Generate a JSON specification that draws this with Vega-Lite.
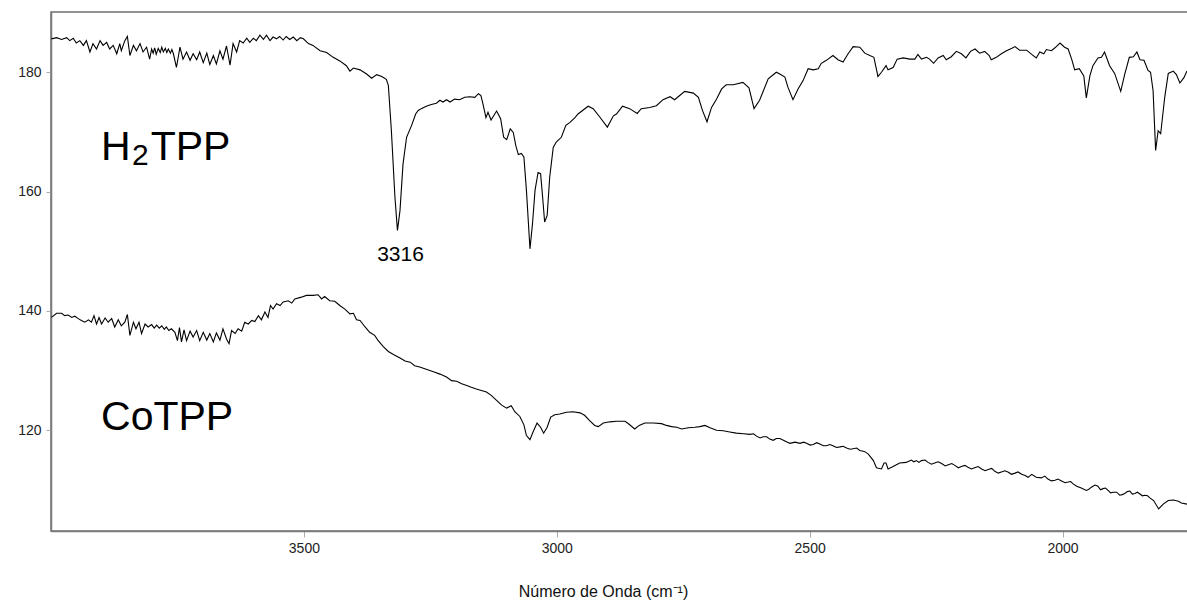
{
  "$schema": "https://vega.github.io/schema/vega-lite/v6.json",
  "width": 1138,
  "height": 519,
  "autosize": {"type": "none"},
  "padding": {"left": 51, "top": 12, "right": 0, "bottom": 69},
  "background": "white",
  "config": {
    "view": {"stroke": "#6e6e6e", "strokeWidth": 1.5},
    "font": "Liberation Sans",
    "axis": {"labelFont": "Liberation Sans", "titleFont": "Liberation Sans", "grid": false}
  },
  "datasets": {
    "spec": [
      {"series":"H2TPP","wn":3999,"t":185.6},{"series":"H2TPP","wn":3989,"t":185.8},{"series":"H2TPP","wn":3979,"t":185.5},{"series":"H2TPP","wn":3969,"t":185.8},{"series":"H2TPP","wn":3963,"t":185.3},{"series":"H2TPP","wn":3956,"t":185.7},{"series":"H2TPP","wn":3950,"t":184.9},{"series":"H2TPP","wn":3943,"t":185.3},{"series":"H2TPP","wn":3936,"t":184.5},{"series":"H2TPP","wn":3930,"t":185.3},{"series":"H2TPP","wn":3923,"t":183.4},{"series":"H2TPP","wn":3917,"t":184.8},{"series":"H2TPP","wn":3910,"t":183.9},{"series":"H2TPP","wn":3903,"t":185.3},{"series":"H2TPP","wn":3897,"t":184.5},{"series":"H2TPP","wn":3890,"t":185.0},{"series":"H2TPP","wn":3884,"t":183.9},{"series":"H2TPP","wn":3877,"t":184.5},{"series":"H2TPP","wn":3870,"t":183.1},{"series":"H2TPP","wn":3864,"t":184.8},{"series":"H2TPP","wn":3861,"t":183.6},{"series":"H2TPP","wn":3854,"t":185.3},{"series":"H2TPP","wn":3849,"t":186.0},{"series":"H2TPP","wn":3844,"t":182.8},{"series":"H2TPP","wn":3837,"t":184.5},{"series":"H2TPP","wn":3831,"t":183.6},{"series":"H2TPP","wn":3824,"t":184.8},{"series":"H2TPP","wn":3818,"t":183.4},{"series":"H2TPP","wn":3811,"t":184.2},{"series":"H2TPP","wn":3805,"t":182.2},{"series":"H2TPP","wn":3801,"t":183.9},{"series":"H2TPP","wn":3798,"t":183.2},{"series":"H2TPP","wn":3795,"t":184.1},{"series":"H2TPP","wn":3792,"t":183.0},{"series":"H2TPP","wn":3788,"t":184.0},{"series":"H2TPP","wn":3784,"t":183.3},{"series":"H2TPP","wn":3781,"t":184.2},{"series":"H2TPP","wn":3778,"t":183.4},{"series":"H2TPP","wn":3774,"t":184.0},{"series":"H2TPP","wn":3771,"t":183.3},{"series":"H2TPP","wn":3768,"t":183.9},{"series":"H2TPP","wn":3764,"t":183.2},{"series":"H2TPP","wn":3761,"t":183.8},{"series":"H2TPP","wn":3758,"t":183.1},{"series":"H2TPP","wn":3752,"t":180.8},{"series":"H2TPP","wn":3745,"t":184.2},{"series":"H2TPP","wn":3739,"t":182.2},{"series":"H2TPP","wn":3732,"t":183.4},{"series":"H2TPP","wn":3725,"t":182.0},{"series":"H2TPP","wn":3719,"t":183.1},{"series":"H2TPP","wn":3712,"t":182.1},{"series":"H2TPP","wn":3706,"t":183.4},{"series":"H2TPP","wn":3699,"t":181.6},{"series":"H2TPP","wn":3692,"t":183.2},{"series":"H2TPP","wn":3686,"t":181.3},{"series":"H2TPP","wn":3679,"t":182.8},{"series":"H2TPP","wn":3673,"t":181.4},{"series":"H2TPP","wn":3666,"t":183.6},{"series":"H2TPP","wn":3660,"t":182.2},{"series":"H2TPP","wn":3653,"t":184.4},{"series":"H2TPP","wn":3646,"t":181.2},{"series":"H2TPP","wn":3640,"t":184.8},{"series":"H2TPP","wn":3633,"t":183.4},{"series":"H2TPP","wn":3627,"t":185.3},{"series":"H2TPP","wn":3620,"t":184.9},{"series":"H2TPP","wn":3613,"t":185.7},{"series":"H2TPP","wn":3607,"t":185.0},{"series":"H2TPP","wn":3600,"t":185.7},{"series":"H2TPP","wn":3594,"t":185.3},{"series":"H2TPP","wn":3587,"t":186.2},{"series":"H2TPP","wn":3580,"t":185.5},{"series":"H2TPP","wn":3574,"t":186.2},{"series":"H2TPP","wn":3567,"t":185.3},{"series":"H2TPP","wn":3561,"t":185.9},{"series":"H2TPP","wn":3554,"t":185.6},{"series":"H2TPP","wn":3548,"t":186.0},{"series":"H2TPP","wn":3541,"t":185.4},{"series":"H2TPP","wn":3535,"t":186.0},{"series":"H2TPP","wn":3528,"t":185.5},{"series":"H2TPP","wn":3521,"t":185.9},{"series":"H2TPP","wn":3514,"t":185.3},{"series":"H2TPP","wn":3507,"t":185.8},{"series":"H2TPP","wn":3501,"t":185.6},{"series":"H2TPP","wn":3491,"t":184.8},{"series":"H2TPP","wn":3482,"t":184.5},{"series":"H2TPP","wn":3468,"t":183.6},{"series":"H2TPP","wn":3455,"t":183.3},{"series":"H2TPP","wn":3442,"t":182.5},{"series":"H2TPP","wn":3429,"t":181.9},{"series":"H2TPP","wn":3416,"t":181.1},{"series":"H2TPP","wn":3409,"t":180.2},{"series":"H2TPP","wn":3402,"t":180.7},{"series":"H2TPP","wn":3389,"t":180.4},{"series":"H2TPP","wn":3376,"t":179.7},{"series":"H2TPP","wn":3366,"t":179.0},{"series":"H2TPP","wn":3356,"t":179.6},{"series":"H2TPP","wn":3346,"t":179.3},{"series":"H2TPP","wn":3337,"t":178.8},{"series":"H2TPP","wn":3333,"t":177.8},{"series":"H2TPP","wn":3327,"t":170.2},{"series":"H2TPP","wn":3320,"t":159.1},{"series":"H2TPP","wn":3315,"t":153.5},{"series":"H2TPP","wn":3310,"t":156.8},{"series":"H2TPP","wn":3304,"t":164.6},{"series":"H2TPP","wn":3297,"t":169.1},{"series":"H2TPP","wn":3287,"t":171.1},{"series":"H2TPP","wn":3279,"t":173.0},{"series":"H2TPP","wn":3274,"t":173.6},{"series":"H2TPP","wn":3268,"t":173.9},{"series":"H2TPP","wn":3258,"t":174.3},{"series":"H2TPP","wn":3248,"t":174.6},{"series":"H2TPP","wn":3238,"t":174.8},{"series":"H2TPP","wn":3231,"t":175.3},{"series":"H2TPP","wn":3225,"t":175.0},{"series":"H2TPP","wn":3218,"t":175.4},{"series":"H2TPP","wn":3211,"t":175.0},{"series":"H2TPP","wn":3202,"t":175.5},{"series":"H2TPP","wn":3192,"t":175.4},{"series":"H2TPP","wn":3182,"t":175.8},{"series":"H2TPP","wn":3172,"t":175.9},{"series":"H2TPP","wn":3162,"t":175.8},{"series":"H2TPP","wn":3155,"t":176.4},{"series":"H2TPP","wn":3150,"t":176.1},{"series":"H2TPP","wn":3146,"t":174.7},{"series":"H2TPP","wn":3140,"t":172.4},{"series":"H2TPP","wn":3136,"t":173.3},{"series":"H2TPP","wn":3130,"t":172.0},{"series":"H2TPP","wn":3119,"t":173.5},{"series":"H2TPP","wn":3111,"t":172.2},{"series":"H2TPP","wn":3105,"t":169.1},{"series":"H2TPP","wn":3099,"t":168.7},{"series":"H2TPP","wn":3092,"t":170.5},{"series":"H2TPP","wn":3086,"t":169.9},{"series":"H2TPP","wn":3081,"t":167.7},{"series":"H2TPP","wn":3076,"t":166.2},{"series":"H2TPP","wn":3070,"t":166.4},{"series":"H2TPP","wn":3065,"t":165.8},{"series":"H2TPP","wn":3060,"t":160.2},{"series":"H2TPP","wn":3053,"t":150.4},{"series":"H2TPP","wn":3048,"t":154.6},{"series":"H2TPP","wn":3043,"t":160.2},{"series":"H2TPP","wn":3037,"t":163.2},{"series":"H2TPP","wn":3032,"t":163.0},{"series":"H2TPP","wn":3028,"t":159.1},{"series":"H2TPP","wn":3024,"t":154.9},{"series":"H2TPP","wn":3019,"t":156.0},{"series":"H2TPP","wn":3014,"t":162.4},{"series":"H2TPP","wn":3007,"t":167.4},{"series":"H2TPP","wn":3001,"t":168.3},{"series":"H2TPP","wn":2991,"t":169.1},{"series":"H2TPP","wn":2982,"t":171.1},{"series":"H2TPP","wn":2974,"t":171.6},{"series":"H2TPP","wn":2964,"t":172.4},{"series":"H2TPP","wn":2958,"t":173.0},{"series":"H2TPP","wn":2938,"t":174.3},{"series":"H2TPP","wn":2928,"t":173.9},{"series":"H2TPP","wn":2915,"t":172.5},{"series":"H2TPP","wn":2900,"t":170.8},{"series":"H2TPP","wn":2888,"t":172.7},{"series":"H2TPP","wn":2882,"t":173.0},{"series":"H2TPP","wn":2870,"t":174.3},{"series":"H2TPP","wn":2856,"t":173.9},{"series":"H2TPP","wn":2841,"t":173.1},{"series":"H2TPP","wn":2833,"t":173.9},{"series":"H2TPP","wn":2816,"t":174.1},{"series":"H2TPP","wn":2803,"t":174.4},{"series":"H2TPP","wn":2790,"t":175.4},{"series":"H2TPP","wn":2776,"t":175.9},{"series":"H2TPP","wn":2767,"t":175.4},{"series":"H2TPP","wn":2757,"t":176.1},{"series":"H2TPP","wn":2747,"t":176.8},{"series":"H2TPP","wn":2730,"t":176.5},{"series":"H2TPP","wn":2720,"t":175.8},{"series":"H2TPP","wn":2712,"t":173.6},{"series":"H2TPP","wn":2703,"t":171.7},{"series":"H2TPP","wn":2694,"t":174.1},{"series":"H2TPP","wn":2684,"t":175.5},{"series":"H2TPP","wn":2674,"t":177.2},{"series":"H2TPP","wn":2665,"t":177.9},{"series":"H2TPP","wn":2651,"t":177.9},{"series":"H2TPP","wn":2632,"t":178.3},{"series":"H2TPP","wn":2620,"t":177.4},{"series":"H2TPP","wn":2610,"t":173.9},{"series":"H2TPP","wn":2599,"t":175.3},{"series":"H2TPP","wn":2582,"t":178.9},{"series":"H2TPP","wn":2566,"t":180.0},{"series":"H2TPP","wn":2559,"t":179.7},{"series":"H2TPP","wn":2549,"t":179.2},{"series":"H2TPP","wn":2543,"t":177.5},{"series":"H2TPP","wn":2533,"t":175.4},{"series":"H2TPP","wn":2523,"t":177.2},{"series":"H2TPP","wn":2513,"t":178.6},{"series":"H2TPP","wn":2503,"t":180.6},{"series":"H2TPP","wn":2493,"t":180.4},{"series":"H2TPP","wn":2483,"t":180.6},{"series":"H2TPP","wn":2477,"t":181.5},{"series":"H2TPP","wn":2467,"t":182.0},{"series":"H2TPP","wn":2454,"t":182.8},{"series":"H2TPP","wn":2444,"t":182.1},{"series":"H2TPP","wn":2434,"t":181.7},{"series":"H2TPP","wn":2424,"t":183.1},{"series":"H2TPP","wn":2414,"t":184.3},{"series":"H2TPP","wn":2401,"t":184.2},{"series":"H2TPP","wn":2391,"t":183.2},{"series":"H2TPP","wn":2381,"t":182.8},{"series":"H2TPP","wn":2373,"t":182.5},{"series":"H2TPP","wn":2365,"t":179.3},{"series":"H2TPP","wn":2358,"t":180.0},{"series":"H2TPP","wn":2349,"t":181.1},{"series":"H2TPP","wn":2345,"t":180.4},{"series":"H2TPP","wn":2335,"t":180.8},{"series":"H2TPP","wn":2327,"t":182.2},{"series":"H2TPP","wn":2315,"t":182.4},{"series":"H2TPP","wn":2302,"t":182.2},{"series":"H2TPP","wn":2292,"t":182.2},{"series":"H2TPP","wn":2286,"t":183.0},{"series":"H2TPP","wn":2279,"t":182.2},{"series":"H2TPP","wn":2269,"t":182.5},{"series":"H2TPP","wn":2263,"t":182.2},{"series":"H2TPP","wn":2255,"t":181.5},{"series":"H2TPP","wn":2246,"t":182.4},{"series":"H2TPP","wn":2236,"t":182.8},{"series":"H2TPP","wn":2230,"t":182.1},{"series":"H2TPP","wn":2220,"t":182.6},{"series":"H2TPP","wn":2210,"t":183.5},{"series":"H2TPP","wn":2200,"t":183.1},{"series":"H2TPP","wn":2191,"t":182.4},{"series":"H2TPP","wn":2182,"t":183.5},{"series":"H2TPP","wn":2173,"t":183.9},{"series":"H2TPP","wn":2164,"t":183.2},{"series":"H2TPP","wn":2154,"t":183.5},{"series":"H2TPP","wn":2145,"t":182.8},{"series":"H2TPP","wn":2141,"t":182.1},{"series":"H2TPP","wn":2131,"t":182.5},{"series":"H2TPP","wn":2121,"t":183.1},{"series":"H2TPP","wn":2111,"t":183.6},{"series":"H2TPP","wn":2101,"t":184.0},{"series":"H2TPP","wn":2094,"t":184.3},{"series":"H2TPP","wn":2085,"t":183.7},{"series":"H2TPP","wn":2071,"t":183.7},{"series":"H2TPP","wn":2061,"t":183.0},{"series":"H2TPP","wn":2052,"t":182.4},{"series":"H2TPP","wn":2045,"t":183.4},{"series":"H2TPP","wn":2037,"t":183.1},{"series":"H2TPP","wn":2032,"t":183.8},{"series":"H2TPP","wn":2022,"t":183.6},{"series":"H2TPP","wn":2015,"t":184.1},{"series":"H2TPP","wn":2005,"t":184.9},{"series":"H2TPP","wn":1996,"t":184.2},{"series":"H2TPP","wn":1989,"t":183.9},{"series":"H2TPP","wn":1982,"t":182.2},{"series":"H2TPP","wn":1976,"t":180.4},{"series":"H2TPP","wn":1967,"t":180.6},{"series":"H2TPP","wn":1958,"t":179.4},{"series":"H2TPP","wn":1953,"t":175.7},{"series":"H2TPP","wn":1946,"t":179.4},{"series":"H2TPP","wn":1940,"t":181.1},{"series":"H2TPP","wn":1930,"t":182.4},{"series":"H2TPP","wn":1923,"t":182.5},{"series":"H2TPP","wn":1917,"t":183.4},{"series":"H2TPP","wn":1907,"t":181.1},{"series":"H2TPP","wn":1897,"t":179.8},{"series":"H2TPP","wn":1885,"t":176.8},{"series":"H2TPP","wn":1877,"t":179.7},{"series":"H2TPP","wn":1868,"t":182.5},{"series":"H2TPP","wn":1860,"t":182.6},{"series":"H2TPP","wn":1853,"t":183.4},{"series":"H2TPP","wn":1847,"t":182.1},{"series":"H2TPP","wn":1839,"t":182.0},{"series":"H2TPP","wn":1831,"t":180.3},{"series":"H2TPP","wn":1826,"t":180.0},{"series":"H2TPP","wn":1821,"t":176.9},{"series":"H2TPP","wn":1816,"t":166.9},{"series":"H2TPP","wn":1811,"t":170.2},{"series":"H2TPP","wn":1806,"t":169.7},{"series":"H2TPP","wn":1798,"t":175.8},{"series":"H2TPP","wn":1791,"t":179.8},{"series":"H2TPP","wn":1781,"t":180.2},{"series":"H2TPP","wn":1775,"t":179.6},{"series":"H2TPP","wn":1768,"t":178.2},{"series":"H2TPP","wn":1760,"t":179.1},{"series":"H2TPP","wn":1754,"t":180.2},
      {"series":"CoTPP","wn":3999,"t":138.9},{"series":"CoTPP","wn":3989,"t":139.6},{"series":"CoTPP","wn":3979,"t":139.6},{"series":"CoTPP","wn":3973,"t":139.2},{"series":"CoTPP","wn":3966,"t":139.3},{"series":"CoTPP","wn":3959,"t":138.9},{"series":"CoTPP","wn":3953,"t":139.1},{"series":"CoTPP","wn":3946,"t":138.7},{"series":"CoTPP","wn":3940,"t":138.4},{"series":"CoTPP","wn":3933,"t":138.1},{"series":"CoTPP","wn":3926,"t":138.5},{"series":"CoTPP","wn":3920,"t":138.1},{"series":"CoTPP","wn":3915,"t":139.2},{"series":"CoTPP","wn":3910,"t":137.8},{"series":"CoTPP","wn":3905,"t":138.9},{"series":"CoTPP","wn":3900,"t":137.8},{"series":"CoTPP","wn":3893,"t":138.8},{"series":"CoTPP","wn":3887,"t":138.1},{"series":"CoTPP","wn":3880,"t":138.7},{"series":"CoTPP","wn":3874,"t":137.3},{"series":"CoTPP","wn":3867,"t":138.5},{"series":"CoTPP","wn":3861,"t":137.5},{"series":"CoTPP","wn":3854,"t":138.1},{"series":"CoTPP","wn":3849,"t":139.4},{"series":"CoTPP","wn":3844,"t":135.9},{"series":"CoTPP","wn":3837,"t":138.1},{"series":"CoTPP","wn":3832,"t":137.0},{"series":"CoTPP","wn":3826,"t":138.1},{"series":"CoTPP","wn":3821,"t":136.2},{"series":"CoTPP","wn":3814,"t":137.8},{"series":"CoTPP","wn":3808,"t":137.3},{"series":"CoTPP","wn":3801,"t":137.7},{"series":"CoTPP","wn":3796,"t":137.1},{"series":"CoTPP","wn":3791,"t":137.6},{"series":"CoTPP","wn":3786,"t":137.1},{"series":"CoTPP","wn":3781,"t":137.5},{"series":"CoTPP","wn":3776,"t":136.9},{"series":"CoTPP","wn":3772,"t":137.3},{"series":"CoTPP","wn":3767,"t":136.7},{"series":"CoTPP","wn":3762,"t":137.0},{"series":"CoTPP","wn":3755,"t":136.4},{"series":"CoTPP","wn":3750,"t":135.0},{"series":"CoTPP","wn":3746,"t":137.2},{"series":"CoTPP","wn":3742,"t":134.8},{"series":"CoTPP","wn":3737,"t":136.8},{"series":"CoTPP","wn":3732,"t":135.0},{"series":"CoTPP","wn":3725,"t":136.6},{"series":"CoTPP","wn":3719,"t":135.6},{"series":"CoTPP","wn":3712,"t":136.7},{"series":"CoTPP","wn":3706,"t":135.0},{"series":"CoTPP","wn":3699,"t":136.4},{"series":"CoTPP","wn":3692,"t":135.1},{"series":"CoTPP","wn":3686,"t":136.2},{"series":"CoTPP","wn":3679,"t":134.8},{"series":"CoTPP","wn":3673,"t":136.3},{"series":"CoTPP","wn":3666,"t":135.1},{"series":"CoTPP","wn":3660,"t":137.0},{"series":"CoTPP","wn":3653,"t":135.3},{"series":"CoTPP","wn":3648,"t":134.5},{"series":"CoTPP","wn":3643,"t":136.7},{"series":"CoTPP","wn":3636,"t":136.2},{"series":"CoTPP","wn":3630,"t":137.0},{"series":"CoTPP","wn":3623,"t":136.6},{"series":"CoTPP","wn":3617,"t":138.1},{"series":"CoTPP","wn":3610,"t":137.8},{"series":"CoTPP","wn":3603,"t":138.4},{"series":"CoTPP","wn":3597,"t":138.2},{"series":"CoTPP","wn":3590,"t":139.2},{"series":"CoTPP","wn":3584,"t":138.5},{"series":"CoTPP","wn":3577,"t":139.8},{"series":"CoTPP","wn":3571,"t":138.9},{"series":"CoTPP","wn":3566,"t":140.9},{"series":"CoTPP","wn":3561,"t":140.3},{"series":"CoTPP","wn":3554,"t":141.2},{"series":"CoTPP","wn":3547,"t":140.9},{"series":"CoTPP","wn":3541,"t":141.5},{"series":"CoTPP","wn":3531,"t":141.7},{"series":"CoTPP","wn":3524,"t":141.3},{"series":"CoTPP","wn":3518,"t":142.0},{"series":"CoTPP","wn":3505,"t":142.3},{"series":"CoTPP","wn":3495,"t":142.6},{"series":"CoTPP","wn":3482,"t":142.6},{"series":"CoTPP","wn":3472,"t":142.7},{"series":"CoTPP","wn":3465,"t":142.0},{"series":"CoTPP","wn":3459,"t":142.4},{"series":"CoTPP","wn":3449,"t":141.7},{"series":"CoTPP","wn":3439,"t":141.6},{"series":"CoTPP","wn":3429,"t":140.9},{"series":"CoTPP","wn":3419,"t":140.3},{"series":"CoTPP","wn":3409,"t":139.5},{"series":"CoTPP","wn":3402,"t":139.6},{"series":"CoTPP","wn":3396,"t":138.5},{"series":"CoTPP","wn":3389,"t":138.4},{"series":"CoTPP","wn":3379,"t":137.3},{"series":"CoTPP","wn":3370,"t":136.4},{"series":"CoTPP","wn":3360,"t":135.9},{"series":"CoTPP","wn":3353,"t":135.0},{"series":"CoTPP","wn":3343,"t":134.0},{"series":"CoTPP","wn":3333,"t":133.2},{"series":"CoTPP","wn":3323,"t":132.7},{"series":"CoTPP","wn":3310,"t":132.1},{"series":"CoTPP","wn":3300,"t":131.6},{"series":"CoTPP","wn":3290,"t":131.4},{"series":"CoTPP","wn":3281,"t":130.8},{"series":"CoTPP","wn":3271,"t":130.6},{"series":"CoTPP","wn":3261,"t":130.3},{"series":"CoTPP","wn":3251,"t":130.0},{"series":"CoTPP","wn":3241,"t":129.7},{"series":"CoTPP","wn":3231,"t":129.4},{"series":"CoTPP","wn":3218,"t":128.9},{"series":"CoTPP","wn":3208,"t":128.3},{"series":"CoTPP","wn":3198,"t":128.2},{"series":"CoTPP","wn":3188,"t":127.8},{"series":"CoTPP","wn":3178,"t":127.5},{"series":"CoTPP","wn":3169,"t":127.2},{"series":"CoTPP","wn":3159,"t":126.9},{"series":"CoTPP","wn":3149,"t":126.65},{"series":"CoTPP","wn":3139,"t":126.4},{"series":"CoTPP","wn":3129,"t":125.8},{"series":"CoTPP","wn":3119,"t":125.0},{"series":"CoTPP","wn":3109,"t":124.2},{"series":"CoTPP","wn":3099,"t":123.7},{"series":"CoTPP","wn":3090,"t":124.1},{"series":"CoTPP","wn":3083,"t":123.1},{"series":"CoTPP","wn":3073,"t":122.3},{"series":"CoTPP","wn":3065,"t":120.9},{"series":"CoTPP","wn":3060,"t":119.1},{"series":"CoTPP","wn":3053,"t":118.4},{"series":"CoTPP","wn":3047,"t":119.7},{"series":"CoTPP","wn":3039,"t":121.2},{"series":"CoTPP","wn":3032,"t":120.5},{"series":"CoTPP","wn":3026,"t":119.5},{"series":"CoTPP","wn":3019,"t":120.5},{"series":"CoTPP","wn":3012,"t":122.2},{"series":"CoTPP","wn":3004,"t":122.6},{"series":"CoTPP","wn":2994,"t":122.7},{"series":"CoTPP","wn":2981,"t":123.0},{"series":"CoTPP","wn":2968,"t":123.1},{"series":"CoTPP","wn":2954,"t":122.9},{"series":"CoTPP","wn":2945,"t":122.5},{"series":"CoTPP","wn":2935,"t":121.6},{"series":"CoTPP","wn":2925,"t":120.8},{"series":"CoTPP","wn":2918,"t":120.6},{"series":"CoTPP","wn":2908,"t":121.2},{"series":"CoTPP","wn":2895,"t":121.4},{"series":"CoTPP","wn":2882,"t":121.5},{"series":"CoTPP","wn":2865,"t":121.5},{"series":"CoTPP","wn":2857,"t":121.0},{"series":"CoTPP","wn":2846,"t":120.2},{"series":"CoTPP","wn":2837,"t":120.8},{"series":"CoTPP","wn":2826,"t":121.2},{"series":"CoTPP","wn":2809,"t":121.2},{"series":"CoTPP","wn":2793,"t":121.1},{"series":"CoTPP","wn":2783,"t":120.8},{"series":"CoTPP","wn":2773,"t":120.6},{"series":"CoTPP","wn":2763,"t":120.5},{"series":"CoTPP","wn":2753,"t":120.2},{"series":"CoTPP","wn":2740,"t":120.4},{"series":"CoTPP","wn":2727,"t":120.5},{"series":"CoTPP","wn":2717,"t":120.6},{"series":"CoTPP","wn":2707,"t":120.8},{"series":"CoTPP","wn":2697,"t":120.4},{"series":"CoTPP","wn":2684,"t":120.0},{"series":"CoTPP","wn":2671,"t":119.9},{"series":"CoTPP","wn":2658,"t":119.7},{"series":"CoTPP","wn":2645,"t":119.5},{"series":"CoTPP","wn":2631,"t":119.4},{"series":"CoTPP","wn":2618,"t":119.3},{"series":"CoTPP","wn":2611,"t":119.4},{"series":"CoTPP","wn":2605,"t":119.0},{"series":"CoTPP","wn":2598,"t":118.7},{"series":"CoTPP","wn":2592,"t":118.9},{"series":"CoTPP","wn":2585,"t":118.9},{"series":"CoTPP","wn":2579,"t":118.5},{"series":"CoTPP","wn":2572,"t":118.3},{"series":"CoTPP","wn":2566,"t":118.6},{"series":"CoTPP","wn":2559,"t":118.6},{"series":"CoTPP","wn":2552,"t":118.3},{"series":"CoTPP","wn":2545,"t":118.0},{"series":"CoTPP","wn":2539,"t":117.8},{"series":"CoTPP","wn":2529,"t":118.0},{"series":"CoTPP","wn":2519,"t":117.8},{"series":"CoTPP","wn":2512,"t":118.0},{"series":"CoTPP","wn":2506,"t":117.8},{"series":"CoTPP","wn":2499,"t":117.5},{"series":"CoTPP","wn":2493,"t":117.6},{"series":"CoTPP","wn":2486,"t":117.9},{"series":"CoTPP","wn":2480,"t":117.7},{"series":"CoTPP","wn":2473,"t":117.4},{"series":"CoTPP","wn":2467,"t":117.4},{"series":"CoTPP","wn":2460,"t":117.6},{"series":"CoTPP","wn":2454,"t":117.4},{"series":"CoTPP","wn":2447,"t":117.1},{"series":"CoTPP","wn":2440,"t":117.2},{"series":"CoTPP","wn":2434,"t":117.3},{"series":"CoTPP","wn":2427,"t":117.0},{"series":"CoTPP","wn":2420,"t":116.8},{"series":"CoTPP","wn":2414,"t":116.9},{"series":"CoTPP","wn":2407,"t":117.0},{"series":"CoTPP","wn":2401,"t":116.6},{"series":"CoTPP","wn":2396,"t":116.5},{"series":"CoTPP","wn":2391,"t":116.4},{"series":"CoTPP","wn":2384,"t":116.0},{"series":"CoTPP","wn":2374,"t":114.9},{"series":"CoTPP","wn":2368,"t":113.7},{"series":"CoTPP","wn":2358,"t":113.5},{"series":"CoTPP","wn":2353,"t":114.5},{"series":"CoTPP","wn":2349,"t":114.5},{"series":"CoTPP","wn":2345,"t":113.5},{"series":"CoTPP","wn":2335,"t":113.9},{"series":"CoTPP","wn":2322,"t":114.5},{"series":"CoTPP","wn":2309,"t":114.6},{"series":"CoTPP","wn":2304,"t":114.8},{"series":"CoTPP","wn":2299,"t":115.0},{"series":"CoTPP","wn":2294,"t":114.7},{"series":"CoTPP","wn":2289,"t":114.9},{"series":"CoTPP","wn":2284,"t":114.6},{"series":"CoTPP","wn":2279,"t":114.9},{"series":"CoTPP","wn":2272,"t":115.0},{"series":"CoTPP","wn":2266,"t":114.6},{"series":"CoTPP","wn":2259,"t":114.3},{"series":"CoTPP","wn":2253,"t":114.5},{"series":"CoTPP","wn":2246,"t":114.7},{"series":"CoTPP","wn":2239,"t":114.4},{"series":"CoTPP","wn":2232,"t":114.0},{"series":"CoTPP","wn":2226,"t":114.2},{"series":"CoTPP","wn":2219,"t":114.4},{"series":"CoTPP","wn":2213,"t":114.1},{"series":"CoTPP","wn":2206,"t":113.7},{"series":"CoTPP","wn":2200,"t":113.9},{"series":"CoTPP","wn":2193,"t":114.1},{"series":"CoTPP","wn":2187,"t":113.8},{"series":"CoTPP","wn":2180,"t":113.5},{"series":"CoTPP","wn":2174,"t":113.7},{"series":"CoTPP","wn":2167,"t":113.9},{"series":"CoTPP","wn":2160,"t":113.5},{"series":"CoTPP","wn":2153,"t":113.2},{"series":"CoTPP","wn":2147,"t":113.4},{"series":"CoTPP","wn":2140,"t":113.6},{"series":"CoTPP","wn":2134,"t":113.1},{"series":"CoTPP","wn":2127,"t":112.8},{"series":"CoTPP","wn":2121,"t":113.0},{"series":"CoTPP","wn":2114,"t":113.2},{"series":"CoTPP","wn":2108,"t":113.0},{"series":"CoTPP","wn":2101,"t":112.6},{"series":"CoTPP","wn":2094,"t":112.8},{"series":"CoTPP","wn":2088,"t":113.0},{"series":"CoTPP","wn":2081,"t":112.6},{"series":"CoTPP","wn":2074,"t":112.4},{"series":"CoTPP","wn":2068,"t":112.1},{"series":"CoTPP","wn":2061,"t":112.6},{"series":"CoTPP","wn":2052,"t":112.1},{"series":"CoTPP","wn":2042,"t":112.0},{"series":"CoTPP","wn":2035,"t":112.3},{"series":"CoTPP","wn":2029,"t":111.8},{"series":"CoTPP","wn":2022,"t":111.5},{"series":"CoTPP","wn":2015,"t":111.6},{"series":"CoTPP","wn":2009,"t":111.8},{"series":"CoTPP","wn":2002,"t":111.5},{"series":"CoTPP","wn":1995,"t":111.2},{"series":"CoTPP","wn":1989,"t":111.3},{"series":"CoTPP","wn":1984,"t":111.4},{"series":"CoTPP","wn":1979,"t":111.0},{"series":"CoTPP","wn":1972,"t":110.6},{"series":"CoTPP","wn":1963,"t":110.3},{"series":"CoTPP","wn":1953,"t":109.9},{"series":"CoTPP","wn":1948,"t":110.1},{"series":"CoTPP","wn":1943,"t":110.45},{"series":"CoTPP","wn":1936,"t":110.8},{"series":"CoTPP","wn":1930,"t":110.6},{"series":"CoTPP","wn":1925,"t":110.0},{"series":"CoTPP","wn":1920,"t":110.2},{"series":"CoTPP","wn":1915,"t":110.3},{"series":"CoTPP","wn":1910,"t":109.9},{"series":"CoTPP","wn":1905,"t":109.5},{"series":"CoTPP","wn":1900,"t":109.6},{"series":"CoTPP","wn":1893,"t":109.6},{"series":"CoTPP","wn":1887,"t":109.1},{"series":"CoTPP","wn":1882,"t":109.2},{"series":"CoTPP","wn":1877,"t":109.4},{"series":"CoTPP","wn":1872,"t":109.7},{"series":"CoTPP","wn":1867,"t":109.8},{"series":"CoTPP","wn":1862,"t":109.3},{"series":"CoTPP","wn":1857,"t":109.4},{"series":"CoTPP","wn":1852,"t":109.6},{"series":"CoTPP","wn":1847,"t":109.3},{"series":"CoTPP","wn":1842,"t":109.0},{"series":"CoTPP","wn":1837,"t":109.1},{"series":"CoTPP","wn":1832,"t":109.0},{"series":"CoTPP","wn":1828,"t":108.7},{"series":"CoTPP","wn":1820,"t":108.2},{"series":"CoTPP","wn":1810,"t":106.8},{"series":"CoTPP","wn":1801,"t":107.6},{"series":"CoTPP","wn":1791,"t":108.2},{"series":"CoTPP","wn":1781,"t":108.3},{"series":"CoTPP","wn":1771,"t":108.1},{"series":"CoTPP","wn":1765,"t":107.8},{"series":"CoTPP","wn":1754,"t":107.6}
    ],
    "big": [
      {"wn": 3901, "t": 165.3, "label": "H"},
      {"wn": 3803, "t": 165.3, "label": "TPP"},
      {"wn": 3901, "t": 120.0, "label": "CoTPP"}
    ],
    "sub": [
      {"wn": 3840, "t": 164.4, "label": "2"}
    ],
    "peak": [
      {"wn": 3309, "t": 148.4, "label": "3316"}
    ]
  },
  "encoding": {
    "x": {
      "field": "wn", "type": "quantitative",
      "scale": {"domain": [4000, 1750], "nice": false, "zero": false},
      "axis": {
        "values": [3500, 3000, 2500, 2000],
        "format": "d",
        "title": "Número de Onda (cm⁻¹)",
        "titleFontSize": 16, "titleFontWeight": "normal", "titleColor": "#111",
        "titleX": 552, "titleY": 65, "titleBaseline": "alphabetic", "titleAnchor": "middle", "titleAlign": "center",
        "labelFontSize": 14, "labelColor": "#222", "labelPadding": 4,
        "domainColor": "#7a7a7a", "domainWidth": 1.5,
        "tickColor": "#aaaaaa", "tickSize": 6, "tickWidth": 1
      }
    },
    "y": {
      "field": "t", "type": "quantitative",
      "scale": {"domain": [103.1, 190.1], "nice": false, "zero": false},
      "axis": {
        "values": [120, 140, 160, 180],
        "format": "d",
        "title": null,
        "labelFontSize": 14, "labelColor": "#222", "labelPadding": 5,
        "domainColor": "#7a7a7a", "domainWidth": 1.5,
        "tickColor": "#aaaaaa", "tickSize": 5, "tickWidth": 1
      }
    }
  },
  "layer": [
    {
      "data": {"name": "spec"},
      "mark": {"type": "line", "color": "black", "strokeWidth": 1.1, "clip": true},
      "encoding": {"detail": {"field": "series", "type": "nominal"}}
    },
    {
      "data": {"name": "big"},
      "mark": {"type": "text", "fontSize": 41, "align": "left", "baseline": "alphabetic", "color": "black", "font": "Liberation Sans"},
      "encoding": {"text": {"field": "label"}}
    },
    {
      "data": {"name": "sub"},
      "mark": {"type": "text", "fontSize": 30, "align": "left", "baseline": "alphabetic", "color": "black", "font": "Liberation Sans"},
      "encoding": {"text": {"field": "label"}}
    },
    {
      "data": {"name": "peak"},
      "mark": {"type": "text", "fontSize": 21, "align": "center", "baseline": "alphabetic", "color": "black", "font": "Liberation Sans"},
      "encoding": {"text": {"field": "label"}}
    }
  ]
}
